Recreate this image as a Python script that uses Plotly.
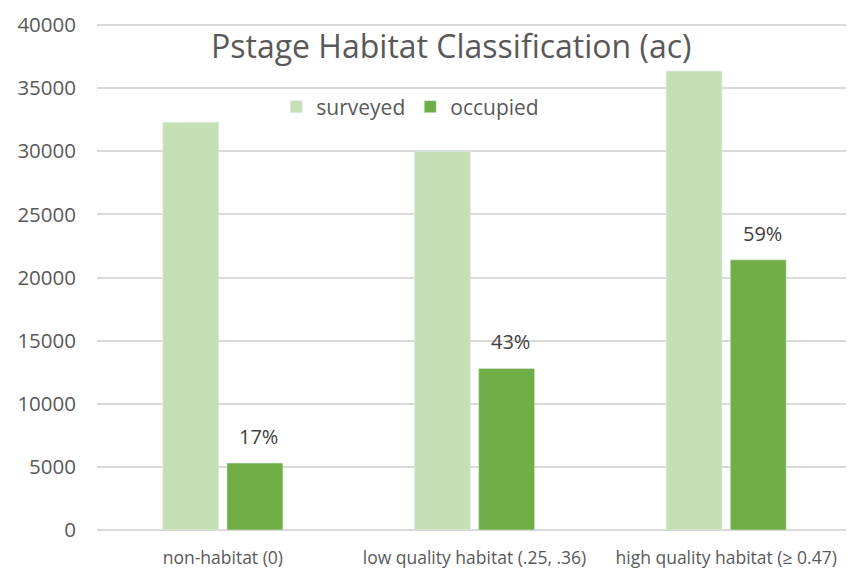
import plotly.graph_objects as go

categories = ["non-habitat (0)", "low quality habitat (.25, .36)", "high quality habitat (≥ 0.47)"]
surveyed = [32300, 30000, 36350]
occupied = [5300, 12800, 21400]
occupied_pct = ["17%", "43%", "59%"]
y_ticks = [0, 5000, 10000, 15000, 20000, 25000, 30000, 35000, 40000]

FONT = "Open Sans"
TXT = "#595959"

fig = go.Figure()
fig.add_trace(go.Bar(name="surveyed", x=categories, y=surveyed, marker_color="#C5E0B4"))
fig.add_trace(go.Bar(name="occupied", x=categories, y=occupied, marker_color="#70AD47"))

annotations = []
for c, v, t in zip(categories, occupied, occupied_pct):
    annotations.append(dict(x=c, y=v, xref="x", yref="y", text=t, showarrow=False,
                            xshift=36, yshift=11, yanchor="bottom",
                            font=dict(family=FONT, size=20, color="#404040")))
annotations.append(dict(x=0.469, y=0.957, xref="paper", yref="paper",
                        text="Pstage Habitat Classification (ac)", showarrow=False,
                        xanchor="center", yanchor="middle",
                        font=dict(family=FONT, size=32, color=TXT)))
fig.update_layout(
    width=846, height=563,
    margin=dict(l=89, r=2, t=11, b=41),
    paper_bgcolor="white", plot_bgcolor="white",
    barmode="group", bargap=0.49, bargroupgap=0.128,
    font=dict(family=FONT, color=TXT),
    legend=dict(orientation="h", x=0.415, y=0.836, xanchor="center", yanchor="middle",
                font=dict(family=FONT, size=21, color=TXT), bgcolor="rgba(0,0,0,0)",
                itemwidth=30),
    annotations=annotations,
    xaxis=dict(tickfont=dict(family=FONT, size=17.5, color=TXT), showgrid=False,
               showline=False, ticks="", ticklabelstandoff=15),
    yaxis=dict(range=[0, 40080], tickvals=y_ticks, tickformat="d",
               tickfont=dict(family=FONT, size=20.5, color=TXT),
               showgrid=True, gridcolor="#D9D9D9", gridwidth=1.5, zeroline=True,
               zerolinecolor="#D9D9D9", zerolinewidth=1.5, ticks="", ticklabelstandoff=20,
               ticklabeloverflow="allow"),
)
fig.write_html("out.html")
